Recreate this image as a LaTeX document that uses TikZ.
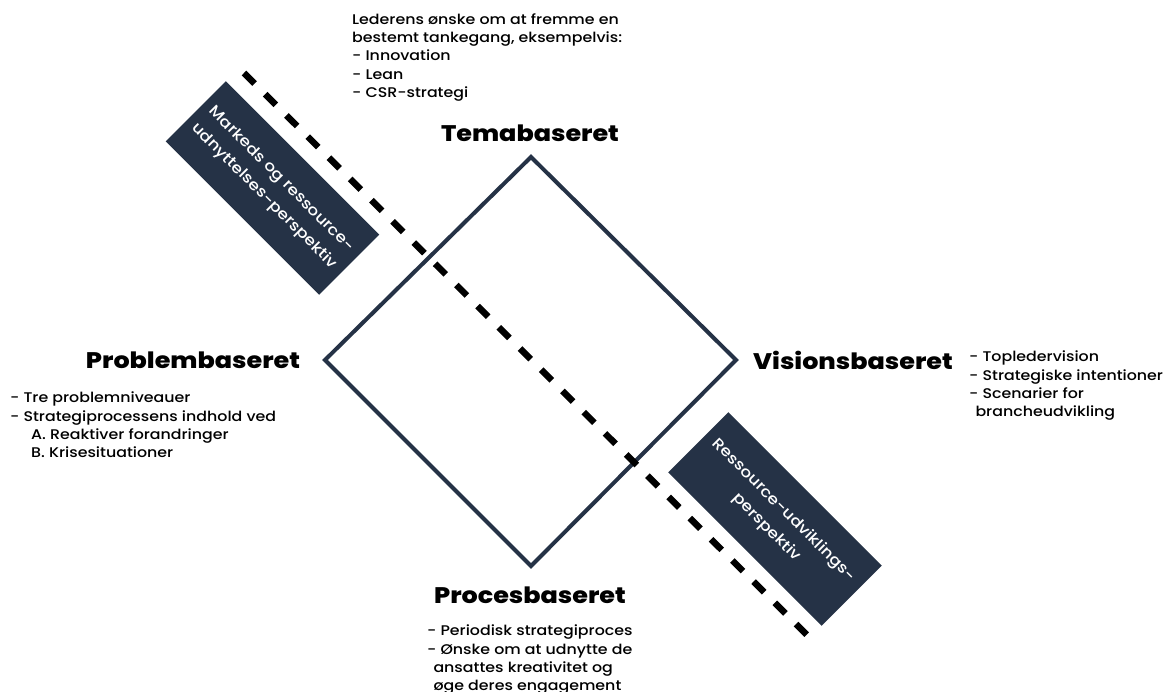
\documentclass[tikz,border=0pt]{standalone}
\usepackage{fontspec}
\setmainfont{Poppins}[FakeStretch=1.13, UprightFont={* Medium}, BoldFont={* ExtraBold}]
\definecolor{navy}{HTML}{253246}
\begin{document}
\begin{tikzpicture}[x=1pt,y=-1pt,
  heading/.style={font=\fontsize{22.5}{27}\selectfont\bfseries, text=black, inner sep=0pt},
  bodytext/.style={font=\fontsize{14}{18.2}\selectfont, align=left, anchor=north west, inner sep=0pt},
  perspbox/.style={fill=navy, text=white, rotate=-45, minimum width=217pt, minimum height=85pt,
    align=center, inner sep=0pt, font=\fontsize{15}{22}\selectfont},
  divider/.style={line width=6.5pt, dash pattern=on 15pt off 15pt, black},
  edge/.style={line width=4pt, draw=navy, line join=miter}]
\useasboundingbox (0,0) rectangle (1164,692);

% the four corners of the diamond
\coordinate (top) at (531,157);
\coordinate (right) at (736,360);
\coordinate (bottom) at (531,566);
\coordinate (left) at (325,360);
\draw[edge] (top) -- (right) -- (bottom) -- (left) -- cycle;

% dashed dividing line
\coordinate (dstart) at (244,73);
\coordinate (dend) at (811,639);
\draw[divider] (dstart) -- (dend);

% rotated perspective boxes
\node[perspbox] (boxA) at (272.5,188) {Markeds og ressource-\\[2pt]udnyttelses-perspektiv};
\node[perspbox] (boxB) at (775,519) {Ressource-udviklings-\\[2pt]perspektiv};

% headings
\node[heading] (tema) at (530,133) {Temabaseret};
\node[heading] (problem) at (193,360) {Problembaseret};
\node[heading] (vision) at (853,360) {Visionsbaseret};
\node[heading] (proces) at (530,595) {Procesbaseret};

% descriptions
\node[bodytext] (temaText) at (352,13.5) {Lederens ønske om at fremme en\\bestemt tankegang, eksempelvis:\\- Innovation\\- Lean\\- CSR-strategi};
\node[bodytext] (problemText) at (10,392) {- Tre problemniveauer\\- Strategiprocessens indhold ved\\\hspace*{1.5em}A. Reaktiver forandringer\\\hspace*{1.5em}B. Krisesituationer};
\node[bodytext] (visionText) at (969,351) {- Topledervision\\- Strategiske intentioner\\- Scenarier for\\\hspace*{0.45em}brancheudvikling};
\node[bodytext] (procesText) at (427,625) {- Periodisk strategiproces\\- Ønske om at udnytte de\\\hspace*{0.45em}ansattes kreativitet og\\\hspace*{0.45em}øge deres engagement};
\end{tikzpicture}
\end{document}
